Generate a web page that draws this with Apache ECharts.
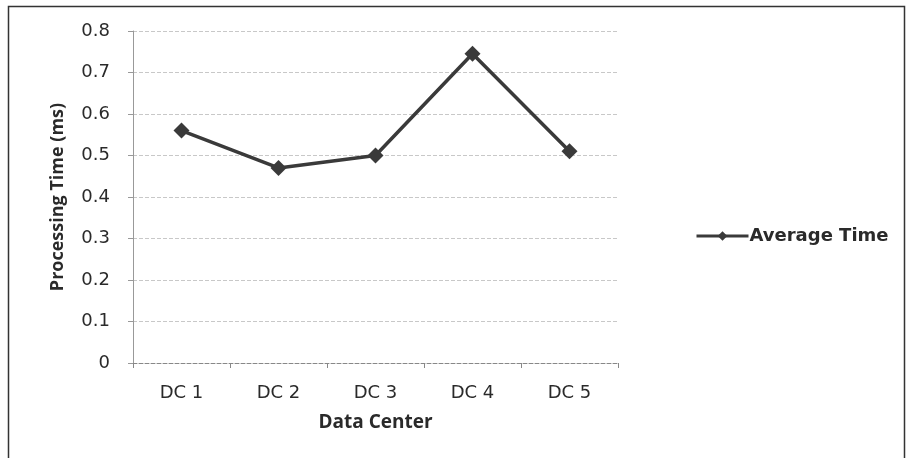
<!DOCTYPE html>
<html><head><meta charset="utf-8">
<script src="https://cdn.jsdelivr.net/npm/echarts@6/dist/echarts.min.js"></script>
<style>html,body{margin:0;padding:0;background:#fff}#c{width:907px;height:458px}</style>
</head><body><div id="c"></div>
<script>
const categories = ["DC 1", "DC 2", "DC 3", "DC 4", "DC 5"];
const averageTime = [0.56, 0.47, 0.50, 0.745, 0.51];
const seriesName = "Average Time";
const yTitle = "Processing Time (ms)";
const xTitle = "Data Center";

const chart = echarts.init(document.getElementById('c'));
const font = "'Open Sans', sans-serif";
const tickFont = "'DejaVu Sans', sans-serif";
chart.setOption({
  animation: false,
  graphic: [{type:'rect', shape:{x:8.5,y:6.5,width:896,height:460}, style:{fill:'none', stroke:'#333', lineWidth:1.5}}],
  grid: {left:133, right:289, top:31, bottom:95, containLabel:false},
  legend: {
    data:[seriesName], left:690, top:222, orient:'vertical',
    itemWidth:52, itemHeight:12, itemGap:5,
    lineStyle:{width:3, color:'#3a3a3a'},
    itemStyle:{color:'#3a3a3a'},
    textStyle:{fontFamily:tickFont, fontSize:18, color:'#2a2a2a', fontWeight:'bold', padding:[0,0,0,-4]}
  },
  xAxis: {
    type:'category', data:categories, boundaryGap:true,
    name:xTitle, nameLocation:'middle', nameGap:50,
    nameTextStyle:{fontFamily:font, fontSize:19, fontWeight:'bold', color:'#2a2a2a'},
    axisLine:{lineStyle:{color:'#888', type:'dashed', width:1}},
    axisTick:{show:true, alignWithLabel:false, length:5, lineStyle:{color:'#888'}},
    axisLabel:{fontFamily:tickFont, fontSize:18, color:'#2a2a2a', margin:21}
  },
  yAxis: {
    type:'value', min:0, max:0.8, interval:0.1,
    name:yTitle, nameLocation:'middle', nameGap:66, nameRotate:90,
    nameTextStyle:{fontFamily:font, fontSize:18, fontWeight:'bold', color:'#2a2a2a'},
    axisLine:{show:true, lineStyle:{color:'#999', width:1}},
    axisTick:{show:true, length:5, lineStyle:{color:'#999'}},
    axisLabel:{fontFamily:tickFont, fontSize:18, color:'#2a2a2a', margin:23, formatter:v=>v===0?'0':v.toFixed(1)},
    splitLine:{show:true, lineStyle:{color:'#c8c8c8', type:'dashed', width:1}}
  },
  series: [{
    name:seriesName, type:'line', data:averageTime,
    symbol:'diamond', symbolSize:16,
    lineStyle:{color:'#3a3a3a', width:3.5},
    itemStyle:{color:'#3a3a3a'}
  }]
});
</script></body></html>
